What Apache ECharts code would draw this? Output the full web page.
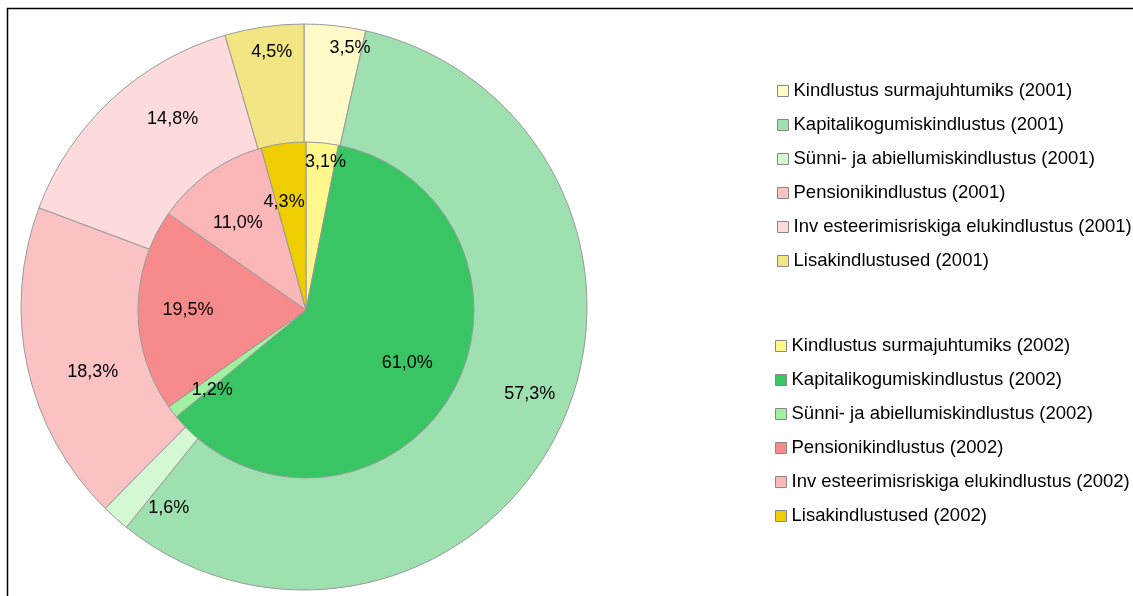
<!DOCTYPE html>
<html>
<head>
<meta charset="utf-8">
<script src="https://cdn.jsdelivr.net/npm/echarts@6/dist/echarts.min.js"></script>
<style>
  html, body { margin: 0; padding: 0; background: #fff; }
  #chart { width: 1133px; height: 596px; }
</style>
</head>
<body>
<div id="chart"></div>
<script>
var categories = [
  'Kindlustus surmajuhtumiks',
  'Kapitalikogumiskindlustus',
  'Sünni- ja abiellumiskindlustus',
  'Pensionikindlustus',
  'Inv esteerimisriskiga elukindlustus',
  'Lisakindlustused'
];
var values2001 = [3.5, 57.3, 1.6, 18.3, 14.8, 4.5];
var values2002 = [3.1, 61.0, 1.2, 19.5, 11.0, 4.3];

var colors2001 = ['#FFFAC8', '#9EE0B0', '#D4F8D4', '#FBC2C4', '#FDDADB', '#F2E584'];
var colors2002 = ['#FFF68C', '#3AC564', '#A0F0A0', '#F78A8A', '#FBB6B8', '#EECE00'];

var font = '"Liberation Sans", Arial, sans-serif';

function fmt(v) {
  return v.toFixed(1).replace('.', ',') + '%';
}

var names2001 = categories.map(function (c) { return c + ' (2001)'; });
var names2002 = categories.map(function (c) { return c + ' (2002)'; });

// nudges so labels land where the original put them
var outerOffsets = [[21, -32], [20, -12], [17, 31], [12, 16], [24, -20], [0, -29]];
var innerOffsets = [[8, -31], [0, -7], [0, 9], [0, 0], [0, 9], [-6, 9]];

var chart = echarts.init(document.getElementById('chart'));

var labelStyle = {
  show: true,
  position: 'inside',
  fontFamily: font,
  fontSize: 18,
  color: '#000',
  formatter: function (p) { return fmt(p.value); }
};

var legendBase = {
  orient: 'vertical',
  icon: 'rect',
  itemWidth: 11,
  itemHeight: 11,
  itemGap: 14,
  itemStyle: { borderColor: '#888', borderWidth: 1 },
  textStyle: { fontFamily: font, fontSize: 18.5, color: '#000', lineHeight: 20 },
  selectedMode: false
};

var option = {
  animation: false,
  graphic: [{
    type: 'rect',
    shape: { x: 7.5, y: 8.5, width: 1200, height: 700 },
    style: { fill: 'none', stroke: '#000', lineWidth: 1.5 },
    silent: true
  }],
  legend: [
    Object.assign({}, legendBase, { left: 772, top: 76, data: names2001 }),
    Object.assign({}, legendBase, { left: 770, top: 331, data: names2002 })
  ],
  series: [
    {
      name: '2001',
      type: 'pie',
      center: [304, 307],
      radius: [0, 283],
      startAngle: 90,
      clockwise: true,
      label: { show: false },
      labelLine: { show: false },
      itemStyle: { borderColor: '#999', borderWidth: 1 },
      emphasis: { disabled: true },
      data: values2001.map(function (v, i) {
        return { name: names2001[i], value: v, itemStyle: { color: colors2001[i] } };
      })
    },
    {
      name: '2001 labels',
      type: 'pie',
      center: [304, 307],
      radius: [168, 283],
      startAngle: 90,
      clockwise: true,
      silent: true,
      legendHoverLink: false,
      itemStyle: { color: 'rgba(0,0,0,0)' },
      label: labelStyle,
      labelLine: { show: false },
      emphasis: { disabled: true },
      data: values2001.map(function (v, i) {
        return { name: 'a' + i, value: v, label: { offset: outerOffsets[i] } };
      })
    },
    {
      name: '2002',
      type: 'pie',
      center: [306, 310],
      radius: [0, 168],
      startAngle: 90,
      clockwise: true,
      label: { show: false },
      labelLine: { show: false },
      itemStyle: { borderColor: '#999', borderWidth: 1 },
      emphasis: { disabled: true },
      data: values2002.map(function (v, i) {
        return { name: names2002[i], value: v, itemStyle: { color: colors2002[i] } };
      })
    },
    {
      name: '2002 labels',
      type: 'pie',
      center: [306, 310],
      radius: [62, 168],
      startAngle: 90,
      clockwise: true,
      silent: true,
      legendHoverLink: false,
      itemStyle: { color: 'rgba(0,0,0,0)' },
      label: labelStyle,
      labelLine: { show: false },
      emphasis: { disabled: true },
      data: values2002.map(function (v, i) {
        return { name: 'b' + i, value: v, label: { offset: innerOffsets[i] } };
      })
    }
  ]
};

chart.setOption(option);
window.onresize = function () { chart.resize(); };
</script>
</body>
</html>
